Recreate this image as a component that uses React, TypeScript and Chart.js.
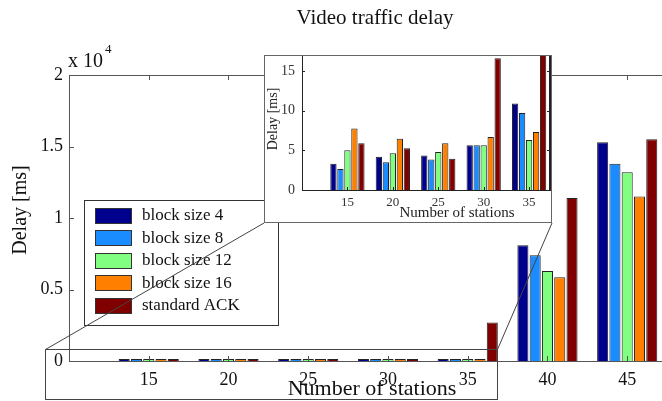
import React, { useEffect, useRef } from "react";
import { Chart, registerables } from "chart.js";

Chart.register(...registerables);

// ---------- data ----------
const stations = [15, 20, 25, 30, 35, 40, 45];
const seriesNames = ["block size 4", "block size 8", "block size 12", "block size 16", "standard ACK"];
const block4 = [3.3, 4.2, 4.35, 5.65, 10.9, 8100, 15300];
const block8 = [2.66, 3.5, 3.84, 5.65, 9.7, 7400, 13800];
const block12 = [5.0, 4.64, 4.77, 5.65, 6.3, 6300, 13200];
const block16 = [7.76, 6.45, 5.9, 6.67, 7.3, 5850, 11500];
const standardAck = [5.9, 5.27, 3.92, 16.6, 2700, 11400, 15500];
const allSeries = [block4, block8, block12, block16, standardAck];

const mainYTicks = [0, 5000, 10000, 15000, 20000];
const mainYTickLabels = ["0", "0.5", "1", "1.5", "2"];
const insetStations = [15, 20, 25, 30, 35];
const insetYTicks = [0, 5, 10, 15];

const colors = ["#00008f", "#1a8cff", "#80ff80", "#ff8000", "#800000"];
const SERIF = "'Liberation Serif', 'Times New Roman', serif";
const AXIS = "#555555";

function line(ctx: CanvasRenderingContext2D, x1: number, y1: number, x2: number, y2: number) {
  ctx.beginPath();
  ctx.moveTo(x1, y1);
  ctx.lineTo(x2, y2);
  ctx.stroke();
}

function zeroPad(s: any) {
  s.paddingTop = 0;
  s.paddingBottom = 0;
  s.paddingLeft = 0;
  s.paddingRight = 0;
}

const mainDecor = {
  id: "mainDecor",
  beforeDraw(chart: any) {
    const { ctx } = chart;
    ctx.save();
    ctx.fillStyle = "#ffffff";
    ctx.fillRect(0, 0, chart.width, chart.height);
    ctx.restore();
  },
  afterDraw(chart: any) {
    const { ctx, chartArea: a, scales } = chart;
    const x = scales.x;
    const y = scales.y;
    ctx.save();
    ctx.strokeStyle = AXIS;
    ctx.lineWidth = 1;
    // top box line
    line(ctx, a.left, a.top + 0.5, a.right, a.top + 0.5);
    // inward ticks
    mainYTicks.slice(1, -1).forEach((v) => {
      const py = Math.round(y.getPixelForValue(v)) + 0.5;
      line(ctx, a.left, py, a.left + 5, py);
    });
    stations.forEach((v) => {
      const px = Math.round(x.getPixelForValue(v)) + 0.5;
      line(ctx, px, a.top, px, a.top + 5);
      line(ctx, px, a.bottom, px, a.bottom - 5);
    });

    // titles
    ctx.fillStyle = "#111";
    ctx.textAlign = "center";
    ctx.textBaseline = "middle";
    ctx.font = `21px ${SERIF}`;
    ctx.fillText("Video traffic delay", 375, 18);
    ctx.font = `22px ${SERIF}`;
    ctx.fillText("Number of stations", 372, 389);
    ctx.font = `20px ${SERIF}`;
    ctx.save();
    ctx.translate(21, 210);
    ctx.rotate(-Math.PI / 2);
    ctx.fillText("Delay [ms]", 0, 0);
    ctx.restore();
    ctx.textAlign = "left";
    ctx.font = `20px ${SERIF}`;
    ctx.fillText("x 10", 68, 62);
    const w = ctx.measureText("x 10").width;
    ctx.font = `13px ${SERIF}`;
    ctx.fillText("4", 68 + w + 2, 50);

    // legend
    const lx = 84, ly = 200, lw = 194, lh = 125;
    ctx.fillStyle = "#ffffff";
    ctx.fillRect(lx, ly, lw, lh);
    ctx.strokeStyle = "#333";
    ctx.strokeRect(lx + 0.5, ly + 0.5, lw, lh);
    ctx.font = `17px ${SERIF}`;
    seriesNames.forEach((name, i) => {
      const cy = 215 + i * 22.5;
      ctx.fillStyle = colors[i];
      ctx.fillRect(95, Math.round(cy - 7.5), 36, 15);
      ctx.strokeStyle = "#333";
      ctx.strokeRect(95.5, Math.round(cy - 7.5) + 0.5, 36, 15);
      ctx.fillStyle = "#111";
      ctx.textBaseline = "middle";
      ctx.fillText(name, 142, cy + 1);
    });

    // zoom rectangle and connector lines
    ctx.strokeStyle = "#444";
    ctx.lineWidth = 1;
    ctx.strokeRect(45.5, 349.5, 452, 50);
    line(ctx, 45.5, 349.5, 264, 223);
    line(ctx, 497.5, 349.5, 552, 223);
    ctx.restore();
  },
};

const insetDecor = {
  id: "insetDecor",
  beforeDraw(chart: any) {
    const { ctx } = chart;
    ctx.save();
    ctx.fillStyle = "#ffffff";
    ctx.fillRect(0, 0, chart.width, chart.height);
    ctx.restore();
  },
  afterDraw(chart: any) {
    const { ctx, chartArea: a, scales } = chart;
    const x = scales.x;
    const y = scales.y;
    ctx.save();
    ctx.strokeStyle = "#222";
    ctx.lineWidth = 1;
    // top line and right axis
    line(ctx, a.left, a.top + 0.5, a.right, a.top + 0.5);
    ctx.lineWidth = 2;
    line(ctx, a.right, a.top, a.right, a.bottom);
    ctx.lineWidth = 1;
    insetYTicks.slice(1).forEach((v) => {
      const py = Math.round(y.getPixelForValue(v)) + 0.5;
      line(ctx, a.left, py, a.left + 3, py);
      line(ctx, a.right - 3, py, a.right, py);
    });
    insetStations.forEach((v) => {
      const px = Math.round(x.getPixelForValue(v)) + 0.5;
      line(ctx, px, a.bottom, px, a.bottom - 3);
    });
    // titles
    ctx.fillStyle = "#222";
    ctx.textAlign = "center";
    ctx.textBaseline = "middle";
    ctx.font = `15px ${SERIF}`;
    ctx.fillText("Number of stations", 193, 158);
    ctx.font = `14px ${SERIF}`;
    ctx.save();
    ctx.translate(9, 64);
    ctx.rotate(-Math.PI / 2);
    ctx.fillText("Delay [ms]", 0, 0);
    ctx.restore();
    // outer box
    ctx.strokeStyle = "#666";
    ctx.strokeRect(0.5, 0.5, chart.width - 1, chart.height - 1);
    ctx.restore();
  },
};

function makeDatasets(n: number, minBar: number) {
  return allSeries.map((s, i) => ({
    label: seriesNames[i],
    data: stations.slice(0, n).map((st, j) => ({ x: st, y: s[j] })),
    backgroundColor: colors[i],
    borderColor: "#222",
    borderWidth: 1,
    minBarLength: minBar,
    categoryPercentage: 0.77,
    barPercentage: 0.9,
  }));
}

export default function App() {
  const mainRef = useRef<HTMLCanvasElement>(null);
  const insetRef = useRef<HTMLCanvasElement>(null);

  useEffect(() => {
    const mainChart = new Chart(mainRef.current as HTMLCanvasElement, {
      type: "bar",
      data: { datasets: makeDatasets(stations.length, 2) as any },
      options: {
        responsive: false,
        animation: false,
        layout: { padding: { top: 75, right: 1, left: 0, bottom: 0 } },
        plugins: { legend: { display: false }, title: { display: false }, tooltip: { enabled: false } },
        scales: {
          x: {
            type: "linear",
            min: 10,
            max: 49,
            offset: false,
            afterBuildTicks: (s: any) => {
              s.ticks = stations.map((v) => ({ value: v }));
            },
            afterFit: (s: any) => {
              s.height = 40;
              zeroPad(s);
            },
            grid: { display: false, drawTicks: false, offset: false },
            border: { display: true, color: AXIS, width: 1 },
            ticks: {
              padding: 8,
              color: "#111",
              autoSkip: false,
              maxRotation: 0,
              font: { family: SERIF, size: 18 },
              callback: (v: any) => String(v),
            },
          },
          y: {
            type: "linear",
            min: 0,
            max: 20000,
            afterBuildTicks: (s: any) => {
              s.ticks = mainYTicks.map((v) => ({ value: v }));
            },
            afterFit: (s: any) => {
              s.width = 69;
              zeroPad(s);
            },
            grid: { display: false, drawTicks: false },
            border: { display: true, color: AXIS, width: 1 },
            ticks: {
              padding: 6,
              color: "#111",
              font: { family: SERIF, size: 18 },
              callback: (v: any) => mainYTickLabels[mainYTicks.indexOf(v)],
            },
          },
        },
      } as any,
      plugins: [mainDecor],
    });

    const insetChart = new Chart(insetRef.current as HTMLCanvasElement, {
      type: "bar",
      data: { datasets: makeDatasets(insetStations.length, 0) as any },
      options: {
        responsive: false,
        animation: false,
        layout: { padding: { top: 0, right: 2, left: 0, bottom: 0 } },
        plugins: { legend: { display: false }, title: { display: false }, tooltip: { enabled: false } },
        scales: {
          x: {
            type: "linear",
            min: 10,
            max: 37.3,
            offset: false,
            afterBuildTicks: (s: any) => {
              s.ticks = insetStations.map((v) => ({ value: v }));
            },
            afterFit: (s: any) => {
              s.height = 33;
              zeroPad(s);
            },
            grid: { display: false, drawTicks: false, offset: false },
            border: { display: true, color: "#222", width: 1 },
            ticks: {
              padding: 5,
              color: "#333",
              autoSkip: false,
              maxRotation: 0,
              font: { family: SERIF, size: 13 },
              callback: (v: any) => String(v),
            },
          },
          y: {
            type: "linear",
            min: 0,
            max: 17,
            afterBuildTicks: (s: any) => {
              s.ticks = insetYTicks.map((v) => ({ value: v }));
            },
            afterFit: (s: any) => {
              s.width = 38;
              zeroPad(s);
            },
            grid: { display: false, drawTicks: false },
            border: { display: true, color: "#222", width: 1 },
            ticks: {
              padding: 7,
              color: "#333",
              font: { family: SERIF, size: 14 },
              callback: (v: any) => String(v),
            },
          },
        },
      } as any,
      plugins: [insetDecor],
    });

    return () => {
      mainChart.destroy();
      insetChart.destroy();
    };
  }, []);

  return (
    <div
      style={{
        position: "absolute",
        left: 0,
        top: 0,
        width: 662,
        height: 401,
        overflow: "hidden",
        background: "#fff",
      }}
    >
      <canvas ref={mainRef} width={692} height={401} style={{ position: "absolute", left: 0, top: 0, display: "block" }} />
      <canvas ref={insetRef} width={288} height={168} style={{ position: "absolute", left: 264, top: 55, display: "block" }} />
    </div>
  );
}
